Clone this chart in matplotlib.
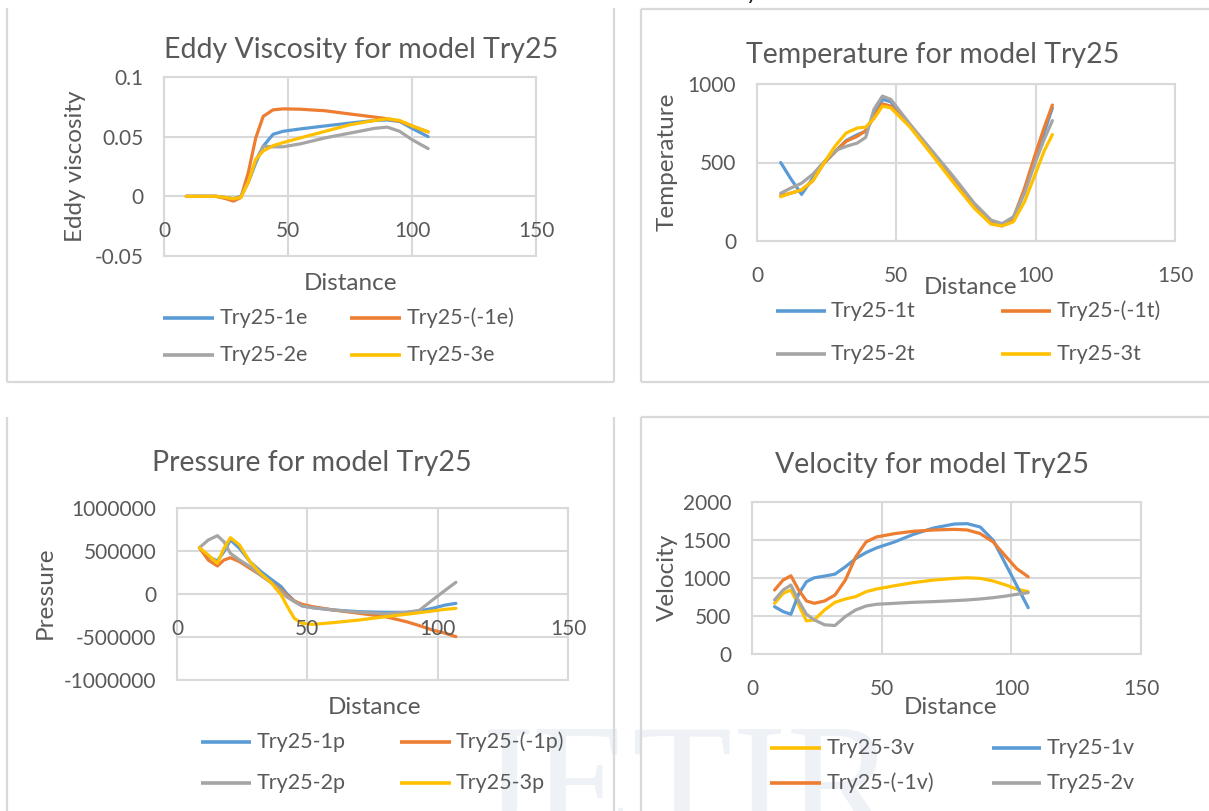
import matplotlib
matplotlib.use("Agg")
import matplotlib.pyplot as plt
from matplotlib.lines import Line2D
from matplotlib.transforms import offset_copy

W, H = 1209, 811
plt.rcParams['font.family'] = ['Lato', 'DejaVu Sans']

# ---------------- data ----------------
# Eddy viscosity
x_eddy = [9, 15, 21, 25, 28, 31, 34, 37, 40, 44, 48, 55, 65, 75, 85, 90, 95, 100, 106.5]
eddy_1e = [0, 0, 0, -0.001, -0.002, 0.000, 0.012, 0.028, 0.042, 0.052, 0.0545, 0.0565, 0.059, 0.0614, 0.0636, 0.064, 0.0628, 0.057, 0.050]
eddy_m1e = [0, 0, 0, -0.002, -0.004, -0.001, 0.020, 0.049, 0.067, 0.0725, 0.0733, 0.073, 0.0717, 0.069, 0.0664, 0.065, 0.063, 0.059, 0.054]
eddy_2e = [0, 0, 0, -0.001, -0.002, 0.000, 0.012, 0.030, 0.042, 0.0415, 0.0415, 0.044, 0.049, 0.053, 0.057, 0.058, 0.0545, 0.0475, 0.040]
eddy_3e = [0, 0, 0, -0.001, -0.002, -0.001, 0.012, 0.031, 0.038, 0.0425, 0.045, 0.049, 0.0545, 0.060, 0.0636, 0.065, 0.0636, 0.059, 0.054]

# Temperature
x_temp = [8.5, 12, 16, 20, 24, 28, 32, 36, 39, 42, 45, 48, 55, 62, 70, 78, 84, 88, 92, 96, 100, 103, 106]
temp_1t = [500, 400, 297, 400, 496, 567, 640, 677, 699, 800, 902, 887, 735, 580, 400, 222, 118, 98, 140, 315, 539, 688, 848]
temp_m1t = [289, 304, 325, 383, 496, 570, 635, 667, 703, 790, 874, 859, 730, 575, 395, 215, 112, 96, 147, 336, 560, 720, 866]
temp_2t = [304, 336, 368, 425, 503, 575, 603, 624, 660, 840, 923, 902, 742, 592, 421, 240, 133, 111, 154, 304, 507, 645, 767]
temp_3t = [282, 304, 325, 383, 496, 604, 688, 720, 725, 780, 859, 848, 724, 567, 383, 208, 107, 96, 122, 250, 432, 571, 678]

# Pressure
x_pres = [8.6, 12, 15.5, 18, 20.5, 24, 28, 32, 36, 40, 42, 45, 48, 52, 60, 70, 80, 88, 93, 98, 103, 107]
pres_1p = [538e3, 434e3, 384e3, 492e3, 628e3, 531e3, 376e3, 267e3, 174e3, 85e3, 8e3, -81e3, -136e3, -159e3, -186e3, -206e3, -213e3, -213e3, -198e3, -167e3, -128e3, -109e3]
pres_m1p = [538e3, 395e3, 326e3, 395e3, 422e3, 376e3, 298e3, 221e3, 136e3, 47e3, -12e3, -81e3, -120e3, -147e3, -186e3, -225e3, -264e3, -322e3, -368e3, -419e3, -457e3, -496e3]
pres_2p = [538e3, 628e3, 678e3, 608e3, 473e3, 395e3, 318e3, 221e3, 136e3, 27e3, -31e3, -89e3, -140e3, -159e3, -186e3, -213e3, -229e3, -213e3, -190e3, -70e3, 46e3, 136e3]
pres_3p = [538e3, 453e3, 357e3, 531e3, 655e3, 570e3, 376e3, 240e3, 136e3, -12e3, -128e3, -283e3, -341e3, -353e3, -333e3, -302e3, -264e3, -236e3, -217e3, -198e3, -178e3, -167e3]

# Velocity
x_vel = [8.7, 12, 15, 18, 21, 24, 28, 32, 36, 40, 44, 48, 55, 62, 70, 78, 83, 88, 93, 98, 102, 106.5]
vel_3v = [667, 798, 842, 645, 436, 449, 580, 680, 724, 755, 820, 855, 898, 938, 973, 995, 1003, 995, 960, 907, 855, 820]
vel_1v = [623, 558, 523, 790, 951, 1003, 1025, 1051, 1147, 1256, 1335, 1396, 1475, 1571, 1658, 1710, 1715, 1671, 1496, 1169, 907, 610]
vel_m1v = [842, 973, 1029, 842, 698, 667, 698, 776, 973, 1278, 1475, 1540, 1584, 1614, 1632, 1640, 1632, 1584, 1475, 1278, 1125, 1016]
vel_2v = [711, 842, 907, 698, 523, 449, 384, 375, 493, 580, 632, 654, 667, 680, 689, 702, 711, 724, 741, 763, 785, 807]

x_ticks = [0, 50, 100, 150]

BLUE, ORANGE, GRAY, YELLOW = '#5B9BD5', '#ED7D31', '#A5A5A5', '#FFC000'
TXT = '#595959'
GRID = '#D9D9D9'
TITLE_FS = 20.5
LABEL_FS = 17.5
TICK_FS = 15
LEG_FS = 15.5

fig = plt.figure(figsize=(W / 100, H / 100), dpi=100)
fig.patch.set_facecolor('white')


def fx(x):
    return x / W


def fy(y):
    return 1 - y / H


# watermark
fig.text(fx(468), fy(836), 'JETIR', family=['Liberation Serif'], fontsize=118,
         color='#EEF1F5', va='baseline', ha='left', zorder=0)

# partial caption fragment at top
fig.text(fx(746), fy(-1), 'y', fontsize=17, color='#222222', va='baseline', ha='left')


# panel borders
def fline(x0, y0, x1, y1):
    fig.add_artist(Line2D([fx(x0), fx(x1)], [fy(y0), fy(y1)], color=GRID, lw=1.6,
                          transform=fig.transFigure, solid_capstyle='butt'))


fline(7, 8, 7, 382); fline(614, 8, 614, 382); fline(7, 382, 614, 382)
fline(641, 9, 641, 382); fline(641, 9, 1209, 9); fline(641, 382, 1209, 382)
fline(7, 417, 7, 811); fline(614, 417, 614, 811)
fline(641, 417, 641, 811); fline(641, 417, 1209, 417)


def make_axes(l, t, r, b, ylim, yticks, ylabels, ycross):
    ax = fig.add_axes([fx(l), fy(b), (r - l) / W, (b - t) / H])
    ax.set_facecolor('none')
    ax.set_xlim(0, 150)
    ax.set_ylim(*ylim)
    ax.set_xticks(x_ticks)
    ax.set_yticks(yticks)
    ax.set_yticklabels(ylabels)
    ax.grid(True, color=GRID, lw=1.5)
    ax.set_axisbelow(True)
    for s in ax.spines.values():
        s.set_color(GRID)
        s.set_linewidth(1.5)
    ax.tick_params(length=0, labelbottom=False, labelsize=TICK_FS, labelcolor=TXT, pad=15)
    tr = offset_copy(ax.transData, fig=fig, y=-35, units='dots')
    for xt in x_ticks:
        ax.text(xt, ycross, str(xt), transform=tr, ha='center', va='center',
                fontsize=TICK_FS, color=TXT, clip_on=False)
    return ax


def legend(items, rows, cols):
    for i, (lab, col) in enumerate(items):
        r, c = divmod(i, 2)
        y = rows[r]
        x0, x1, xt = cols[c]
        fig.add_artist(Line2D([fx(x0), fx(x1)], [fy(y), fy(y)], color=col, lw=2.6,
                              transform=fig.transFigure, solid_capstyle='butt'))
        fig.text(fx(xt), fy(y), lab, fontsize=LEG_FS, color=TXT, va='center', ha='left')


LW = 2.3
KW = dict(lw=LW, solid_joinstyle='round', solid_capstyle='round')

# ---- Panel 1: Eddy viscosity
ax1 = make_axes(164, 77, 536, 256, (-0.05, 0.1), [-0.05, 0, 0.05, 0.1],
                ['-0.05', '0', '0.05', '0.1'], 0)
for ys, c in [(eddy_1e, BLUE), (eddy_m1e, ORANGE), (eddy_2e, GRAY), (eddy_3e, YELLOW)]:
    ax1.plot(x_eddy, ys, color=c, **KW)
fig.text(fx(361), fy(50), 'Eddy Viscosity for model Try25', fontsize=TITLE_FS, color=TXT, ha='center', va='center')
fig.text(fx(76), fy(166), 'Eddy viscosity', fontsize=LABEL_FS, color=TXT, ha='center', va='center', rotation=90)
fig.text(fx(351), fy(283), 'Distance', fontsize=LABEL_FS, color=TXT, ha='center', va='center')
legend([('Try25-1e', BLUE), ('Try25-(-1e)', ORANGE), ('Try25-2e', GRAY), ('Try25-3e', YELLOW)],
       [318, 355], [(163, 214, 220), (350, 401, 407)])

# ---- Panel 2: Temperature
ax2 = make_axes(757, 84, 1175, 241, (0, 1000), [0, 500, 1000], ['0', '500', '1000'], 0)
for ys, c in [(temp_1t, BLUE), (temp_m1t, ORANGE), (temp_2t, GRAY), (temp_3t, YELLOW)]:
    ax2.plot(x_temp, ys, color=c, **KW)
fig.text(fx(933), fy(55), 'Temperature for model Try25', fontsize=TITLE_FS, color=TXT, ha='center', va='center')
fig.text(fx(667), fy(162), 'Temperature', fontsize=LABEL_FS, color=TXT, ha='center', va='center', rotation=90)
fig.text(fx(970), fy(288), 'Distance', fontsize=LABEL_FS, color=TXT, ha='center', va='center')
legend([('Try25-1t', BLUE), ('Try25-(-1t)', ORANGE), ('Try25-2t', GRAY), ('Try25-3t', YELLOW)],
       [311, 354], [(776, 826, 831), (1001, 1051, 1057)])

# ---- Panel 3: Pressure
ax3 = make_axes(177, 508, 568, 680, (-1000000, 1000000), [-1000000, -500000, 0, 500000, 1000000],
                ['-1000000', '-500000', '0', '500000', '1000000'], 0)
for ys, c in [(pres_1p, BLUE), (pres_m1p, ORANGE), (pres_2p, GRAY), (pres_3p, YELLOW)]:
    ax3.plot(x_pres, ys, color=c, **KW)
fig.text(fx(312), fy(463), 'Pressure for model Try25', fontsize=TITLE_FS, color=TXT, ha='center', va='center')
fig.text(fx(45), fy(593), 'Pressure', fontsize=LABEL_FS, color=TXT, ha='center', va='center', rotation=90)
fig.text(fx(374), fy(707), 'Distance', fontsize=LABEL_FS, color=TXT, ha='center', va='center')
legend([('Try25-1p', BLUE), ('Try25-(-1p)', ORANGE), ('Try25-2p', GRAY), ('Try25-3p', YELLOW)],
       [742, 783], [(201, 251, 257), (400, 451, 456)])

# ---- Panel 4: Velocity
ax4 = make_axes(752, 502, 1141, 654, (0, 2000), [0, 500, 1000, 1500, 2000],
                ['0', '500', '1000', '1500', '2000'], 0)
for ys, c in [(vel_3v, YELLOW), (vel_1v, BLUE), (vel_m1v, ORANGE), (vel_2v, GRAY)]:
    ax4.plot(x_vel, ys, color=c, **KW)
fig.text(fx(932), fy(465), 'Velocity for model Try25', fontsize=TITLE_FS, color=TXT, ha='center', va='center')
fig.text(fx(667), fy(577), 'Velocity', fontsize=LABEL_FS, color=TXT, ha='center', va='center', rotation=90)
fig.text(fx(951), fy(708), 'Distance', fontsize=LABEL_FS, color=TXT, ha='center', va='center')
legend([('Try25-3v', YELLOW), ('Try25-1v', BLUE), ('Try25-(-1v)', ORANGE), ('Try25-2v', GRAY)],
       [748, 783], [(770, 821, 827), (992, 1041, 1047)])

fig.savefig('out.png', dpi=100, facecolor='white')
